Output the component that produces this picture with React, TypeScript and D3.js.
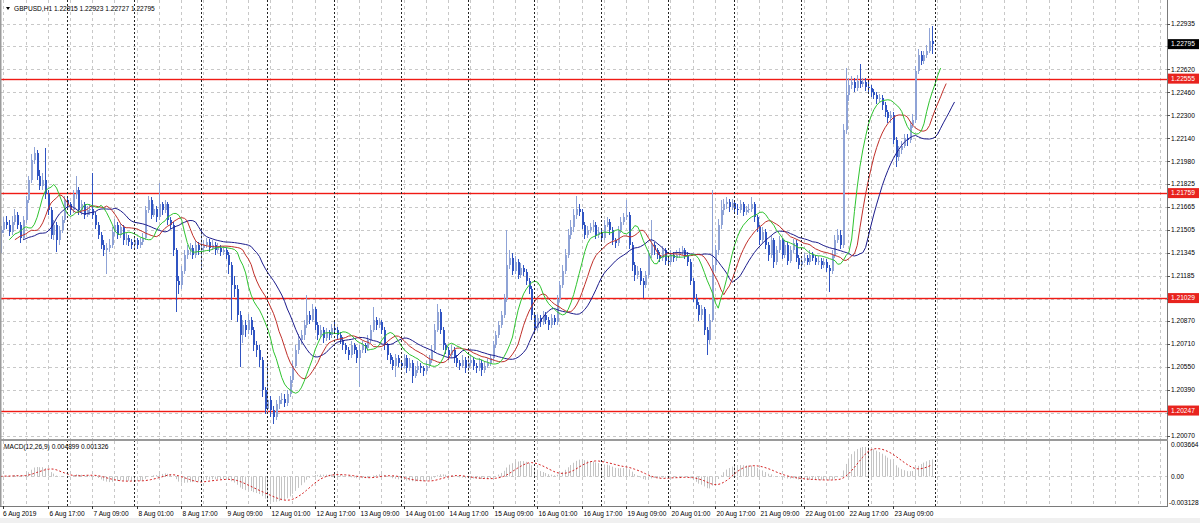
import React from "react";
import * as d3 from "d3";

// GBPUSD H1 closes, 6 Aug 2019 00:00 .. 23 Aug 2019 23:00 (one per hour)
const firstOpen = 1.2148;
const closes = [
  1.2150,1.2156,1.2154,1.2149,1.2156,1.2161,1.2154,1.2145,1.2157,
  1.2171,1.2185,1.2199,1.2204,1.2188,1.2181,1.2185,1.2175,
  1.2164,1.2147,1.2154,1.2143,1.2150,1.2157,
  1.2171,1.2168,1.2164,1.2175,1.2178,1.2164,
  1.2168,1.2161,1.2164,1.2165,1.2161,
  1.2154,1.2147,1.2140,1.2136,1.2138,1.2140,
  1.2149,1.2154,1.2147,1.2152,1.2143,
  1.2145,1.2142,1.2140,1.2143,1.2140,1.2142,1.2145,
  1.2164,1.2171,1.2161,1.2165,1.2159,1.2168,
  1.2164,1.2168,1.2157,1.2154,
  1.2136,1.2115,1.2112,1.2122,1.2133,1.2136,
  1.2138,1.2133,1.2140,1.2136,1.2138,
  1.2140,1.2142,1.2138,1.2140,1.2136,1.2138,1.2135,1.2136,1.2133,
  1.2126,1.2112,1.2109,1.2091,1.2077,1.2084,1.2081,1.2088,1.2081,1.2070,1.2067,1.2060,1.2039,1.2026,1.2032,1.2025,1.2020,1.2029,1.2032,1.2033,1.2030,1.2036,
  1.2046,1.2056,1.2067,1.2074,1.2077,1.2084,1.2091,1.2088,1.2095,1.2084,
  1.2077,1.2081,1.2075,1.2079,1.2077,1.2082,1.2081,
  1.2077,1.2074,1.2070,1.2067,1.2063,1.2070,1.2067,1.2061,1.2067,
  1.2070,1.2068,1.2074,
  1.2081,1.2088,1.2084,1.2086,1.2081,
  1.2070,1.2063,1.2060,1.2056,1.2061,
  1.2058,1.2056,1.2061,1.2054,1.2058,
  1.2049,1.2053,1.2056,1.2054,1.2052,1.2056,1.2060,
  1.2067,1.2081,1.2093,
  1.2081,1.2070,1.2067,
  1.2063,1.2067,1.2061,1.2058,1.2056,1.2060,1.2054,1.2058,
  1.2060,1.2056,1.2054,1.2058,1.2053,1.2056,1.2058,1.2061,
  1.2070,1.2077,1.2084,1.2091,1.2102,
  1.2126,1.2131,
  1.2122,1.2128,1.2119,1.2124,1.2121,1.2115,1.2109,
  1.2091,1.2082,
  1.2089,1.2086,1.2091,1.2088,1.2084,1.2089,1.2086,
  1.2102,1.2112,1.2122,
  1.2133,1.2147,1.2152,
  1.2161,1.2165,1.2163,
  1.2154,1.2147,1.2150,1.2152,
  1.2154,1.2147,1.2149,1.2145,1.2154,
  1.2156,1.2150,
  1.2143,1.2141,
  1.2150,1.2156,1.2159,1.2161,
  1.2140,1.2126,1.2119,
  1.2122,1.2115,1.2112,1.2119,
  1.2133,1.2140,
  1.2136,1.2133,1.2131,1.2136,1.2129,1.2128,1.2133,
  1.2131,1.2133,1.2135,1.2136,1.2133,1.2128,
  1.2115,1.2103,
  1.2098,1.2091,1.2095,1.2081,1.2074,1.2088,
  1.2126,1.2136,1.2154,1.2164,
  1.2168,1.2170,1.2166,1.2169,1.2165,1.2164,1.2168,1.2163,1.2164,1.2165,1.2168,
  1.2159,1.2152,1.2143,1.2149,
  1.2140,1.2133,1.2143,1.2128,1.2136,
  1.2143,1.2133,1.2140,1.2129,1.2136,1.2141,1.2131,
  1.2126,1.2129,
  1.2131,1.2128,1.2133,1.2131,1.2128,1.2129,1.2126,1.2128,
  1.2124,1.2122,
  1.2133,1.2143,1.2147,
  1.2140,1.2220,1.2244,
  1.2251,1.2253,1.2249,1.2254,1.2252,1.2253,1.2250,
  1.2249,1.2246,1.2244,1.2241,1.2242,
  1.2237,1.2232,1.2228,1.2230,
  1.2213,1.2201,
  1.2206,1.2209,1.2214,1.2213,
  1.2223,1.2227,
  1.2261,1.2272,
  1.2268,1.2272,1.2275,
  1.22815,1.22795,
];

const highs = [
  1.2153,1.2159,1.2160,1.2157,1.2160,1.2165,1.2163,1.2156,1.2160,
  1.2174,1.2188,1.2203,1.2208,1.2206,1.2192,1.2190,1.2207,
  1.2178,1.2166,1.2157,1.2156,1.2153,1.2160,
  1.2174,1.2174,1.2170,1.2178,1.2188,1.2180,
  1.2171,1.2170,1.2167,1.2168,1.2190,
  1.2163,1.2156,1.2149,1.2143,1.2141,1.2144,
  1.2152,1.2158,1.2156,1.2155,1.2154,
  1.2148,1.2147,1.2144,1.2146,1.2145,1.2145,1.2148,
  1.2167,1.2174,1.2173,1.2168,1.2167,1.2183,
  1.2170,1.2171,1.2170,1.2159,
  1.2156,1.2138,1.2118,1.2125,1.2136,1.2140,
  1.2141,1.2140,1.2143,1.2142,1.2150,
  1.2143,1.2145,1.2144,1.2143,1.2142,1.2141,1.2140,1.2139,1.2138,
  1.2135,1.2128,1.2118,1.2112,1.2094,1.2088,1.2088,1.2092,1.2090,1.2083,1.2073,1.2070,1.2062,1.2041,1.2058,1.2035,1.2028,1.2032,1.2035,1.2037,1.2036,1.2039,
  1.2049,1.2059,1.2070,1.2078,1.2081,1.2088,1.2105,1.2094,1.2099,1.2097,
  1.2086,1.2084,1.2083,1.2082,1.2081,1.2085,1.2088,
  1.2083,1.2079,1.2076,1.2072,1.2069,1.2073,1.2072,1.2069,1.2070,
  1.2073,1.2072,1.2077,
  1.2084,1.2097,1.2090,1.2089,1.2088,
  1.2083,1.2072,1.2065,1.2062,1.2064,
  1.2063,1.2060,1.2064,1.2063,1.2061,
  1.2060,1.2056,1.2059,1.2058,1.2056,1.2059,1.2063,
  1.2070,1.2085,1.2099,
  1.2095,1.2083,1.2072,
  1.2069,1.2070,1.2069,1.2063,1.2060,1.2063,1.2062,1.2061,
  1.2063,1.2062,1.2058,1.2061,1.2060,1.2059,1.2061,1.2064,
  1.2073,1.2080,1.2087,1.2094,1.2106,
  1.2150,1.2136,
  1.2134,1.2132,1.2130,1.2127,1.2126,1.2123,1.2117,
  1.2111,1.2093,
  1.2092,1.2091,1.2094,1.2093,1.2090,1.2092,1.2091,
  1.2105,1.2115,1.2126,
  1.2137,1.2151,1.2157,
  1.2165,1.2174,1.2168,
  1.2165,1.2156,1.2153,1.2155,
  1.2157,1.2156,1.2152,1.2151,1.2157,
  1.2159,1.2158,
  1.2152,1.2145,
  1.2153,1.2159,1.2162,1.2171,
  1.2163,1.2142,1.2128,
  1.2125,1.2124,1.2117,1.2122,
  1.2136,1.2157,
  1.2142,1.2138,1.2135,1.2139,1.2138,1.2131,1.2136,
  1.2135,1.2136,1.2138,1.2139,1.2138,1.2135,
  1.2130,1.2117,
  1.2106,1.2100,1.2098,1.2097,1.2083,1.2092,
  1.2178,1.2140,1.2158,1.2171,
  1.2172,1.2173,1.2172,1.2172,1.2171,1.2168,1.2171,1.2170,1.2167,1.2168,1.2173,
  1.2170,1.2161,1.2154,1.2152,
  1.2151,1.2142,1.2146,1.2145,1.2139,
  1.2146,1.2145,1.2143,1.2142,1.2139,1.2144,1.2143,
  1.2133,1.2132,
  1.2134,1.2133,1.2136,1.2135,1.2133,1.2132,1.2131,1.2131,
  1.2130,1.2126,
  1.2136,1.2147,1.2151,
  1.2150,1.2224,1.2263,
  1.2256,1.2257,1.2256,1.2258,1.2266,1.2256,1.2256,
  1.2253,1.2251,1.2248,1.2246,1.2245,
  1.2244,1.2239,1.2234,1.2233,
  1.2232,1.2215,
  1.2209,1.2212,1.2217,1.2217,
  1.2226,1.2231,
  1.2264,1.2276,
  1.2275,1.2275,1.2279,
  1.2291,1.22923,
];

const lows = [
  1.2134,1.2148,1.2151,1.2146,1.2147,1.2154,1.2151,1.2141,1.2143,
  1.2155,1.2169,1.2183,1.2196,1.2185,1.2178,1.2178,1.2172,
  1.2161,1.2144,1.2143,1.2135,1.2140,1.2148,
  1.2155,1.2165,1.2161,1.2162,1.2172,1.2161,
  1.2161,1.2158,1.2159,1.2161,1.2158,
  1.2151,1.2144,1.2137,1.2132,1.2120,1.2135,
  1.2138,1.2146,1.2144,1.2145,1.2140,
  1.2140,1.2139,1.2137,1.2138,1.2137,1.2138,1.2140,
  1.2143,1.2162,1.2158,1.2159,1.2156,1.2157,
  1.2161,1.2162,1.2154,1.2151,
  1.2132,1.2093,1.2106,1.2109,1.2120,1.2130,
  1.2133,1.2130,1.2131,1.2133,1.2124,
  1.2135,1.2138,1.2135,1.2136,1.2133,1.2134,1.2132,1.2133,1.2130,
  1.2120,1.2088,1.2104,1.2086,1.2055,1.2072,1.2076,1.2078,1.2077,1.2066,1.2062,1.2055,1.2034,1.2022,1.2023,1.2020,1.2015,1.2018,1.2026,1.2029,1.2027,1.2028,
  1.2034,1.2044,1.2054,1.2064,1.2071,1.2074,1.2082,1.2085,1.2086,1.2081,
  1.2074,1.2075,1.2072,1.2073,1.2074,1.2075,1.2078,
  1.2074,1.2071,1.2067,1.2064,1.2060,1.2061,1.2064,1.2058,1.2041,
  1.2065,1.2065,1.2066,
  1.2072,1.2079,1.2081,1.2082,1.2078,
  1.2067,1.2060,1.2057,1.2053,1.2048,
  1.2055,1.2053,1.2054,1.2051,1.2052,
  1.2044,1.2047,1.2051,1.2051,1.2049,1.2050,1.2054,
  1.2058,1.2065,1.2079,
  1.2078,1.2067,1.2064,
  1.2060,1.2061,1.2058,1.2055,1.2053,1.2054,1.2051,1.2052,
  1.2056,1.2053,1.2051,1.2052,1.2049,1.2051,1.2054,1.2056,
  1.2059,1.2068,1.2075,1.2082,1.2089,
  1.2100,1.2123,
  1.2119,1.2120,1.2116,1.2117,1.2118,1.2112,1.2106,
  1.2088,1.2078,
  1.2080,1.2083,1.2084,1.2085,1.2081,1.2082,1.2084,
  1.2084,1.2100,1.2110,
  1.2120,1.2131,1.2144,
  1.2149,1.2158,1.2160,
  1.2151,1.2144,1.2145,1.2148,
  1.2149,1.2144,1.2145,1.2142,1.2143,
  1.2152,1.2147,
  1.2140,1.2138,
  1.2139,1.2148,1.2154,1.2157,
  1.2137,1.2122,1.2115,
  1.2116,1.2112,1.2103,1.2110,
  1.2117,1.2131,
  1.2133,1.2130,1.2128,1.2129,1.2126,1.2125,1.2126,
  1.2128,1.2129,1.2131,1.2133,1.2130,1.2125,
  1.2112,1.2100,
  1.2095,1.2087,1.2088,1.2077,1.2063,1.2071,
  1.2086,1.2122,1.2133,1.2151,
  1.2161,1.2165,1.2163,1.2164,1.2162,1.2161,1.2162,1.2160,1.2161,1.2162,1.2163,
  1.2156,1.2149,1.2140,1.2141,
  1.2137,1.2129,1.2131,1.2124,1.2126,
  1.2134,1.2130,1.2131,1.2126,1.2127,1.2134,1.2128,
  1.2123,1.2124,
  1.2127,1.2126,1.2126,1.2129,1.2126,1.2126,1.2123,1.2124,
  1.2121,1.2107,
  1.2120,1.2131,1.2141,
  1.2137,1.2138,1.2217,
  1.2240,1.2248,1.2246,1.2247,1.2249,1.2250,1.2247,
  1.2246,1.2243,1.2241,1.2238,1.2239,
  1.2234,1.2229,1.2225,1.2225,
  1.2210,1.2194,
  1.2198,1.2203,1.2207,1.2209,
  1.2211,1.2221,
  1.2225,1.2259,
  1.2265,1.2266,1.2270,
  1.2273,1.22727,
];

const priceTicks = [1.22935, 1.2278, 1.2262, 1.2246, 1.223, 1.2214, 1.2198, 1.21825, 1.21665, 1.21505, 1.21345, 1.21185, 1.21025, 1.2087, 1.2071, 1.2055, 1.2039, 1.2023, 1.2007];
const priceTickText = ["1.22935", "1.22780", "1.22620", "1.22460", "1.22300", "1.22140", "1.21980", "1.21825", "1.21665", "1.21505", "1.21345", "1.21185", "1.21025", "1.20870", "1.20710", "1.20550", "1.20390", "1.20230", "1.20070"];
const levelPrices = [1.22555, 1.21759, 1.21029, 1.20247];
const levelText = ["1.22555", "1.21759", "1.21029", "1.20247"];
const lastPrice = 1.22795;
const lastPriceText = "1.22795";
const headerText = "GBPUSD,H1  1.22815 1.22923 1.22727 1.22795";
const macdHeader = "MACD(12,26,9) 0.004899 0.001326";
const macdTicks = [0.003664, 0.0, -0.003128];
const macdTickText = ["0.003664", "0.00", "-0.003128"];
const timeLabels = ["6 Aug 2019", "6 Aug 17:00", "7 Aug 09:00", "8 Aug 01:00", "8 Aug 17:00", "9 Aug 09:00", "12 Aug 01:00", "12 Aug 17:00", "13 Aug 09:00", "14 Aug 01:00", "14 Aug 17:00", "15 Aug 09:00", "16 Aug 01:00", "16 Aug 17:00", "19 Aug 09:00", "20 Aug 01:00", "20 Aug 17:00", "21 Aug 09:00", "22 Aug 01:00", "22 Aug 17:00", "23 Aug 09:00"];
// Alligator: jaw (13, shift 8), teeth (8, shift 5), lips (5, shift 3)
const alligatorPeriods = [13, 8, 5];
const alligatorShifts = [8, 5, 3];
const alligatorColors = ["#1c1c8c", "#c0302a", "#2fc42f"];
const macdParams = [12, 26, 9];

const W = 1200;
const H = 523;
const RIGHT = 1167;
const MAIN_BOTTOM = 439;
const MACD_TOP = 441;
const MACD_BOTTOM = 506;
const FONT = "'Liberation Sans', Arial, sans-serif";

function smma(a: number[], n: number) {
  const out: number[] = [];
  a.forEach((v, i) => out.push(i === 0 ? v : (out[i - 1] * (n - 1) + v) / n));
  return out;
}
function sma(a: number[], n: number) {
  return a.map((_, i) => d3.mean(a.slice(Math.max(0, i - n + 1), i + 1)) as number);
}
function ema(a: number[], n: number) {
  const k = 2 / (n + 1);
  const out: number[] = [];
  a.forEach((v, i) => out.push(i === 0 ? v : out[i - 1] + k * (v - out[i - 1])));
  return out;
}

export default function App() {
  const opens = closes.map((_, i) => (i === 0 ? firstOpen : closes[i - 1]));
  const x = d3.scaleLinear().domain([0, 1]).range([0.5, 3.28]);
  const y = d3.scaleLinear().domain([1.2007, 1.22935]).range([436, 24]);
  const ym = d3.scaleLinear().domain([-0.003128, 0.003664]).range([MACD_BOTTOM - 1, MACD_TOP + 2]);

  const median = highs.map((h, i) => (h + lows[i]) / 2);
  const gator = alligatorPeriods.map((p) => smma(median, p));
  const e1 = ema(closes, macdParams[0]);
  const e2 = ema(closes, macdParams[1]);
  const macd = e1.map((v, i) => v - e2[i]);
  const signal = sma(macd, macdParams[2]);

  const mline = d3.line<number>().x((_, i) => x(i)).y((d) => ym(d));

  const gridX: number[] = [];
  for (let k = 0; x(1 + 8 * k) < RIGHT; k++) gridX.push(Math.round(x(1 + 8 * k)) + 0.5);
  const sepX: number[] = [];
  for (let k = 1; k <= 14; k++) sepX.push(Math.round(x(24 * k)) + 0.5);

  const boxYs = [...levelPrices, lastPrice].map((p) => y(p));

  return (
    <svg width={W} height={H} style={{ position: "absolute", left: 0, top: 0, background: "#fff" }} fontFamily={FONT}>
      <rect x={0} y={0} width={W} height={H} fill="#fff" />
      <rect x={0} y={518} width={W} height={5} fill="#f0f0f0" />
      <defs>
        <clipPath id="mainClip"><rect x={1} y={0} width={RIGHT - 1} height={MAIN_BOTTOM} /></clipPath>
        <clipPath id="macdClip"><rect x={1} y={MACD_TOP} width={RIGHT - 1} height={MACD_BOTTOM - MACD_TOP} /></clipPath>
      </defs>

      {/* horizontal grid */}
      {priceTicks.map((p, i) => (
        <line key={"hg" + i} x1={1} x2={RIGHT} y1={Math.round(y(p)) + 0.5} y2={Math.round(y(p)) + 0.5} stroke="#c8c8c8" strokeDasharray="3,3" />
      ))}
      <line x1={1} x2={RIGHT} y1={Math.round(ym(0)) + 0.5} y2={Math.round(ym(0)) + 0.5} stroke="#c8c8c8" strokeDasharray="3,3" />
      {/* vertical grid */}
      {gridX.map((gx, i) => (
        <g key={"vg" + i}>
          <line x1={gx} x2={gx} y1={0} y2={MAIN_BOTTOM} stroke="#c8c8c8" strokeDasharray="3,3" />
          <line x1={gx} x2={gx} y1={MACD_TOP} y2={MACD_BOTTOM} stroke="#c8c8c8" strokeDasharray="3,3" />
        </g>
      ))}

      {/* level lines */}
      {levelPrices.map((p, i) => (
        <rect key={"lv" + i} x={1} y={Math.round(y(p)) - 0.2} width={RIGHT - 1} height={1.4} fill="#f01a14" />
      ))}

      {/* candles */}
      <g clipPath="url(#mainClip)" shapeRendering="crispEdges">
        {closes.map((c, i) => {
          const o = opens[i];
          const up = c >= o;
          const col = up ? "#8fa3d6" : "#3054c2";
          const xc = Math.round(x(i));
          const yt = y(Math.max(o, c));
          const yb = y(Math.min(o, c));
          return (
            <g key={"c" + i}>
              <rect x={xc} y={y(highs[i])} width={1} height={Math.max(1, y(lows[i]) - y(highs[i]))} fill={col} />
              <rect x={xc} y={yt} width={2} height={Math.max(1, yb - yt)} fill={col} />
            </g>
          );
        })}
      </g>

      {/* alligator lines */}
      <g clipPath="url(#mainClip)">
        {gator.map((m, k) => {
          const ln = d3.line<number>().x((_, i) => x(i + alligatorShifts[k]) + 0.5).y((d) => y(d));
          return <path key={"ma" + k} d={ln(m) || ""} fill="none" stroke={alligatorColors[k]} strokeWidth={1} />;
        })}
      </g>

      {/* MACD */}
      <g clipPath="url(#macdClip)">
        {macd.map((v, i) => (
          <line key={"h" + i} x1={Math.round(x(i)) + 0.5} x2={Math.round(x(i)) + 0.5} y1={ym(0)} y2={ym(v)} stroke="#c4c4c4" strokeWidth={1} />
        ))}
        <path d={mline(signal) || ""} fill="none" stroke="#d42020" strokeWidth={1} strokeDasharray="2,2" />
      </g>

      {/* period separators */}
      {sepX.map((sx, i) => (
        <line key={"sp" + i} x1={sx} x2={sx} y1={0} y2={MACD_BOTTOM} stroke="#222" strokeDasharray="2,2" />
      ))}

      {/* frame */}
      <line x1={0.5} x2={0.5} y1={0} y2={MACD_BOTTOM} stroke="#9a9a9a" strokeWidth={2} />
      <line x1={RIGHT + 0.5} x2={RIGHT + 0.5} y1={0} y2={MACD_BOTTOM} stroke="#7a7a7a" />
      <rect x={0} y={MAIN_BOTTOM} width={RIGHT + 1} height={MACD_TOP - MAIN_BOTTOM} fill="#9a9a9a" />
      <line x1={0} x2={RIGHT + 1} y1={MACD_BOTTOM + 0.5} y2={MACD_BOTTOM + 0.5} stroke="#7a7a7a" />

      {/* header */}
      <path d="M6,7 L10,7 L8,10 Z" fill="#000" />
      <text x={14} y={10.5} fontSize={6.6} fill="#000">{headerText}</text>
      <text x={4} y={449} fontSize={6.6} fill="#000">{macdHeader}</text>

      {/* price axis */}
      {priceTicks.map((p, i) => {
        const py = y(p);
        const hidden = boxYs.some((b) => Math.abs(b - py) < 6);
        return (
          <g key={"pt" + i}>
            <line x1={RIGHT} x2={RIGHT + 3} y1={Math.round(py) + 0.5} y2={Math.round(py) + 0.5} stroke="#555" />
            {!hidden && (
              <text x={1171} y={py} dy="0.35em" fontSize={6.6} fill="#000">{priceTickText[i]}</text>
            )}
          </g>
        );
      })}
      {levelPrices.map((p, i) => (
        <g key={"lb" + i}>
          <rect x={1168} y={y(p) - 5} width={31} height={10} fill="#e8231e" />
          <text x={1171} y={y(p)} dy="0.35em" fontSize={6.6} fill="#fff">{levelText[i]}</text>
        </g>
      ))}
      <rect x={1168} y={y(lastPrice) - 5} width={31} height={10} fill="#000" />
      <text x={1171} y={y(lastPrice)} dy="0.35em" fontSize={6.6} fill="#fff">{lastPriceText}</text>

      {/* MACD axis */}
      {macdTicks.map((v, i) => (
        <text key={"mt" + i} x={v < 0 ? 1169 : 1171} y={i === 0 ? MACD_TOP + 4 : i === 2 ? MACD_BOTTOM - 3 : ym(v)} dy="0.35em" fontSize={6.6} fill="#000">{macdTickText[i]}</text>
      ))}

      {/* time axis */}
      {timeLabels.map((t, k) => {
        const tx = Math.round(x(1 + 16 * k)) + 0.5;
        return (
          <g key={"tl" + k}>
            <line x1={tx} x2={tx} y1={MACD_BOTTOM} y2={MACD_BOTTOM + 3} stroke="#333" />
            <text x={k === 0 ? 3 : tx + 1} y={516} fontSize={6.6} fill="#000">{t}</text>
          </g>
        );
      })}
    </svg>
  );
}
